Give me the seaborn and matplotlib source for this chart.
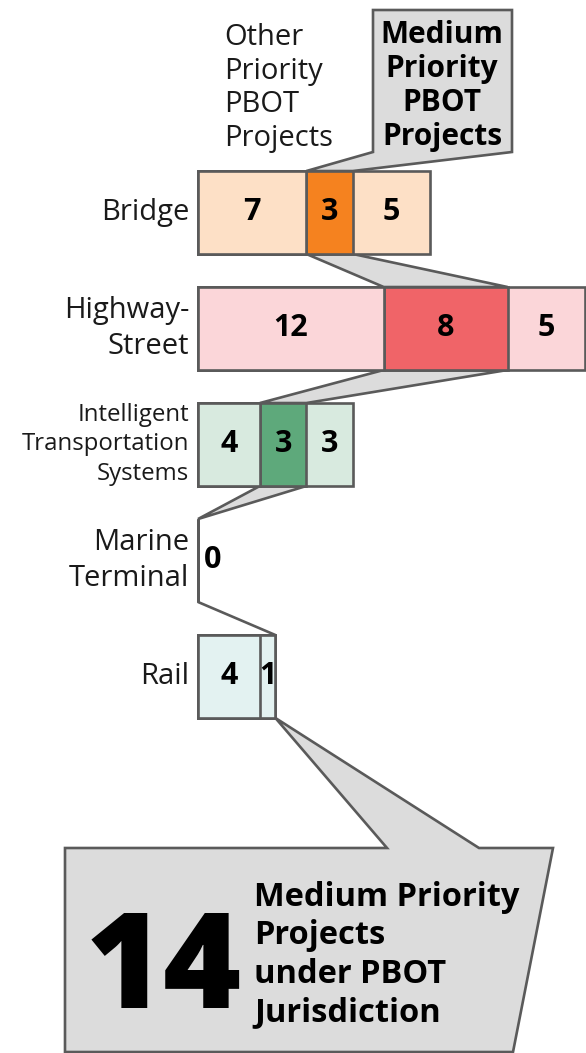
import numpy as np
import pandas as pd
import seaborn as sns
import matplotlib.pyplot as plt
from matplotlib.patches import Polygon


# Data ............................................................................................

categories = ["Bridge", "Highway-Street", "Intelligent Transportation Systems",
              "Marine Terminal", "Rail"]
row_labels = ["Bridge", "Highway-\nStreet", "Intelligent\nTransportation\nSystems",
              "Marine\nTerminal", "Rail"]
row_label_sizes = [21, 21, 17.3, 21, 21]
row_label_spacing = [1.28, 1.28, 1.33, 1.28, 1.28]

# segments from left to right in every bar
other_before = [7, 12, 4, 0, 4]
other_before_extra = [0, 0, 0, 0, 1]
medium = [3, 8, 3, 0, 0]
other_after = [5, 5, 3, 0, 0]

light_colors = ["#FDE0C6", "#FBD6D9", "#D8EADF", "#FFFFFF", "#E3F2F1"]
medium_colors = ["#F5821F", "#F06468", "#5EA97B", "#FFFFFF", "#E3F2F1"]

total_medium = sum(medium)


# Layout helpers ..................................................................................

W, H = 586, 1053
PX_UNIT = 15.48      # pixels per project
X0 = 198             # pixel where bars start
Y0 = 212.5           # pixel centre of first row
ROW = 116            # pixels between rows
BAR_H = 0.715
EDGE = "#5A5A5A"
GREY = "#DCDCDC"
LW = 1.9

def px_x(p):
    return (p - X0) / PX_UNIT

def px_y(p):
    return (p - Y0) / ROW


sns.set_style("white")
plt.rcParams['font.family'] = ['Open Sans', 'DejaVu Sans']

fig = plt.figure(figsize = (W / 100, H / 100), dpi = 100)
ax = fig.add_axes([0, 0, 1, 1])

df = pd.DataFrame({
    "category": categories,
    "before": other_before,
    "extra": other_before_extra,
    "medium": medium,
    "after": other_after,
})
df["c1"] = df["before"]
df["c2"] = df["c1"] + df["extra"]
df["c3"] = df["c2"] + df["medium"]
df["c4"] = df["c3"] + df["after"]

# stacked bars: draw the cumulative widths from the longest to the shortest
for col, pal in [("c4", light_colors), ("c3", medium_colors),
                 ("c2", light_colors), ("c1", light_colors)]:
    sns.barplot(data = df, x = col, y = "category", hue = "category",
                palette = dict(zip(categories, pal)), orient = "h", width = BAR_H,
                saturation = 1, edgecolor = EDGE, linewidth = LW, errorbar = None,
                legend = False, ax = ax, zorder = 3)

# grey band linking the medium priority segments
for i in range(len(categories) - 1):
    pts = [(df["c2"][i], i + BAR_H / 2), (df["c3"][i], i + BAR_H / 2),
           (df["c3"][i + 1], i + 1 - BAR_H / 2), (df["c2"][i + 1], i + 1 - BAR_H / 2)]
    ax.add_patch(Polygon(pts, closed = True, facecolor = GREY, edgecolor = EDGE,
                         linewidth = LW, zorder = 1))

# top callout
top = -BAR_H / 2
pts = [(px_x(373), px_y(10)), (px_x(512), px_y(10)), (px_x(512), px_y(152)),
       (df["c3"][0], top), (df["c2"][0], top), (px_x(373), px_y(152))]
ax.add_patch(Polygon(pts, closed = True, facecolor = GREY, edgecolor = EDGE,
                     linewidth = LW, zorder = 1))

# bottom callout
last = len(categories) - 1
bottom = last + BAR_H / 2
pts = [(px_x(65), px_y(848)), (px_x(387), px_y(848)), (df["c2"][last], bottom),
       (df["c3"][last], bottom), (px_x(479), px_y(848)), (px_x(553), px_y(848)),
       (px_x(513), px_y(1052)), (px_x(65), px_y(1052))]
ax.add_patch(Polygon(pts, closed = True, facecolor = GREY, edgecolor = EDGE,
                     linewidth = LW, zorder = 1))

# segment values
for i in range(len(categories)):
    left = 0
    for v in [other_before[i], other_before_extra[i], medium[i], other_after[i]]:
        if v > 0:
            ax.text(left + v / 2, i, str(v), ha = 'center', va = 'center',
                    fontsize = 22, fontweight = 'bold', color = 'black', zorder = 5)
        left += v
    if left == 0:
        ax.text(px_x(204) , i, "0", ha = 'left', va = 'center',
                fontsize = 22, fontweight = 'bold', color = 'black', zorder = 5)

# row labels
for i, lab in enumerate(row_labels):
    ax.text(px_x(189), i, lab, ha = 'right', va = 'center', fontsize = row_label_sizes[i],
            color = '#1A1A1A', linespacing = row_label_spacing[i])

# header texts
ax.text(px_x(224), px_y(88), "Other\nPriority\nPBOT\nProjects", ha = 'left',
        va = 'center', fontsize = 21, color = '#1A1A1A', linespacing = 1.2)
ax.text(px_x(442), px_y(86), "Medium\nPriority\nPBOT\nProjects", ha = 'center',
        va = 'center', fontsize = 21.5, fontweight = 'bold', color = 'black',
        linespacing = 1.18)

# total
ax.text(px_x(164), px_y(973), str(total_medium), ha = 'center', va = 'center',
        fontsize = 96, fontweight = 'heavy', color = 'black', zorder = 5)
ax.text(px_x(254), px_y(955), "Medium Priority\nProjects\nunder PBOT\nJurisdiction",
        ha = 'left', va = 'center', fontsize = 23.5, fontweight = 'bold',
        color = 'black', linespacing = 1.22, zorder = 5)

ax.set_xlim(px_x(0), px_x(W))
ax.set_ylim(px_y(H), px_y(0))
ax.axis('off')

plt.savefig("out.png", dpi = 100)
